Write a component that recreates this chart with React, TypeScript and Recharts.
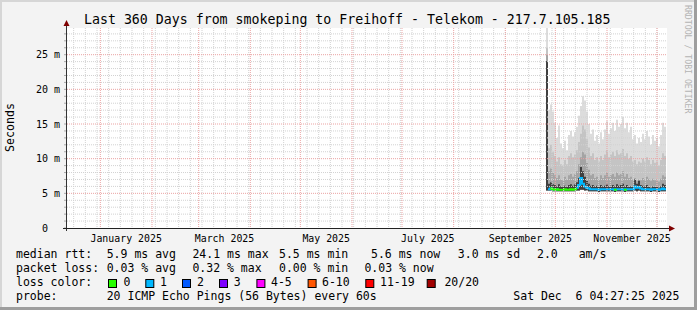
import { ComposedChart, Area, Line, XAxis, YAxis, CartesianGrid } from 'recharts';

const FONT = '"DejaVu Sans Mono", monospace';

// time axis in days since the start of the 360 day window
const firstDay = 287.4;
const stepDays = 1.2;

// smoke layers (ms), one value per 1.2 day step
const maxPing = [30, 17.0, 17.8, 16.8, 15.2, 13.0, 14.8, 12.2, 11.5, 12.6, 11.2, 13.4, 14.0, 13.2, 13.8, 14.6, 16.2, 17.6, 19.0, 18.4, 16.8, 15.0, 13.6, 14.2, 12.6, 13.4, 12.2, 13.8, 12.8, 14.2, 15.4, 13.6, 14.4, 15.2, 14.0, 15.6, 14.6, 15.0, 16.0, 14.4, 15.2, 13.8, 14.6, 12.8, 13.4, 12.2, 13.0, 12.4, 13.6, 12.8, 14.0, 13.2, 12.0, 13.4, 12.6, 13.0, 11.8, 13.4, 15.2, 14.6, 14.6];
const upperPing = [26, 11.5, 12.0, 11.0, 10.4, 9.6, 10.2, 9.2, 9.0, 9.8, 9.2, 10.4, 10.8, 10.2, 10.6, 11.2, 12.4, 13.6, 14.8, 14.2, 12.8, 11.6, 10.4, 10.8, 9.8, 10.2, 9.6, 10.4, 9.8, 10.6, 11.2, 10.2, 10.6, 11.0, 10.4, 11.2, 10.6, 10.8, 11.4, 10.4, 10.8, 10.0, 10.4, 9.6, 9.8, 9.2, 9.6, 9.4, 10.0, 9.6, 10.2, 9.8, 9.2, 9.8, 9.4, 9.6, 9.0, 9.8, 10.8, 10.4, 10.4];
const midPing = [25, 8.2, 8.6, 8.0, 7.6, 7.2, 7.6, 7.0, 6.9, 7.4, 7.0, 7.6, 7.8, 7.4, 7.8, 8.2, 9.2, 10.2, 11.0, 10.6, 9.4, 8.4, 7.6, 7.8, 7.2, 7.4, 7.0, 7.6, 7.2, 7.6, 8.0, 7.4, 7.6, 7.8, 7.4, 8.0, 7.6, 7.8, 8.2, 7.4, 7.8, 7.2, 7.4, 7.0, 7.2, 6.8, 7.0, 6.9, 7.2, 7.0, 7.4, 7.1, 6.8, 7.1, 6.9, 7.0, 6.7, 7.1, 7.6, 7.4, 7.4];
const corePing = [24.1, 6.4, 6.6, 6.3, 6.2, 6.0, 6.3, 6.0, 5.9, 6.1, 5.9, 6.2, 6.3, 6.1, 6.3, 6.6, 7.2, 8.8, 8.2, 7.4, 6.8, 6.4, 6.1, 6.2, 6.0, 6.1, 5.9, 6.2, 6.0, 6.1, 6.3, 6.0, 6.1, 6.2, 6.0, 6.3, 6.1, 6.2, 6.4, 6.0, 6.2, 5.9, 6.0, 5.9, 7.0, 6.4, 6.8, 6.2, 6.1, 6.0, 6.2, 5.9, 5.8, 6.0, 5.9, 5.9, 5.8, 6.0, 6.4, 6.2, 6.2];
const minPing = [5.4, 5.4, 5.4, 5.3, 5.3, 5.3, 5.3, 5.3, 5.3, 5.3, 5.3, 5.3, 5.3, 5.3, 5.3, 5.4, 5.4, 5.5, 5.5, 5.4, 5.4, 5.3, 5.3, 5.3, 5.3, 5.3, 5.2, 5.3, 5.3, 5.3, 5.3, 5.3, 5.3, 5.3, 5.2, 5.3, 5.3, 5.3, 5.3, 5.2, 5.3, 5.3, 5.3, 5.3, 5.4, 5.3, 5.4, 5.3, 5.3, 5.3, 5.3, 5.3, 5.2, 5.3, 5.3, 5.3, 5.2, 5.3, 5.3, 5.3, 5.3];
const medianRtt = [null, 5.6, 5.7, 5.6, 5.5, 5.6, 5.5, 5.5, 5.5, 5.6, 5.5, 5.5, 5.6, 5.5, 5.6, 5.8, 6.2, 7.2, 6.4, 6.0, 5.8, 5.7, 5.6, 5.6, 5.6, 5.6, 5.5, 5.6, 5.6, 5.6, 5.6, 5.6, 5.6, 5.6, 5.5, 5.6, 5.6, 5.6, 5.6, 5.5, 5.6, 5.6, 5.6, 5.6, 6.0, 5.8, 5.9, 5.7, 5.6, 5.6, 5.6, 5.6, 5.5, 5.6, 5.6, 5.6, 5.5, 5.6, 5.7, 5.6, 5.6];
const lossCount = [1, 1, 0, 1, 0, 1, 0, 0, 0, 0, 0, 0, 0, 0, 0, 1, 1, 1, 1, 1, 1, 1, 1, 1, 1, 1, 1, 1, 1, 1, 1, 1, 1, 1, 0, 1, 1, 1, 1, 0, 1, 1, 1, 1, 1, 1, 1, 1, 1, 1, 1, 1, 1, 1, 1, 1, 1, 1, 1, 1, 1];

const monthStarts = [20, 51, 79, 110, 140, 171, 201, 232, 263, 293, 324, 354];
const monthLabelDays = [35.5, 94.5, 155.5, 216.5, 278, 339];
const monthLabels = ['January 2025', 'March 2025', 'May 2025', 'July 2025', 'September 2025', 'November 2025'];
const weekStarts = Array.from({ length: 51 }, (_, k) => 4 + 7 * k);
const yTicks = [0, 1, 2, 3, 4, 5, 6, 7, 8, 9, 10, 11, 12, 13, 14, 15, 16, 17, 18, 19, 20, 21, 22, 23, 24, 25, 26, 27, 28];
const yMajor = [5, 10, 15, 20, 25];
const yMinor = yTicks.filter((v) => v > 0 && v % 5 !== 0);

const lossColors = ['#26ff00', '#00b8ff', '#0059ff', '#7e00ff', '#ff00ff', '#ff5500', '#ff0000', '#a10000'];
const lossLabels = ['0', '1', '2', '3', '4-5', '6-10', '11-19', '20/20'];

const statsRtt = ['5.9 ms avg', '24.1 ms max', '5.5 ms min', '5.6 ms now', '3.0 ms sd', '2.0', 'am/s'];
const statsLoss = ['0.03 % avg', '0.32 % max', '0.00 % min', '0.03 % now'];

const rows = maxPing.map((mx, i) => {
  const med = medianRtt[i];
  const inColor = (c: number) =>
    med != null && (lossCount[i] === c || (i > 0 && lossCount[i - 1] === c && medianRtt[i - 1] != null)) ? med : null;
  return {
    day: firstDay + i * stepDays,
    outer: [minPing[i], mx],
    upper: [minPing[i], upperPing[i]],
    mid: [minPing[i], midPing[i]],
    core: [minPing[i], corePing[i]],
    med0: inColor(0),
    med1: inColor(1),
  };
});

const XLabel = (p: any) => {
  const k = monthLabelDays.indexOf(p.payload.value);
  return (
    <text x={p.x} y={241.5} textAnchor="middle" fontFamily={FONT} fontSize={9.9} fill="#000">
      {k >= 0 ? monthLabels[k] : ''}
    </text>
  );
};

const YLabel = (p: any) => {
  const v = p.payload.value;
  if (v % 5 !== 0) return <g />;
  return (
    <text x={60} y={p.y + 3.6} textAnchor="end" fontFamily={FONT} fontSize={10} fill="#000" style={{ whiteSpace: 'pre' }}>
      {v === 0 ? '0  ' : `${v} m`}
    </text>
  );
};

const rttX = [106.7, 192.4, 279, 371, 457.8, 537, 578.7];
const lossX = [106.7, 192.4, 279, 364.4];
const boxX = [108, 145.3, 182, 219, 256.4, 307.6, 365.3, 426.7];
const boxLabelX = [123.6, 160, 197, 233.8, 271, 322, 380, 444.4];

export default function App() {
  const txt = { fontFamily: FONT, fontSize: 11.5, fill: '#000', style: { whiteSpace: 'pre' as const } };
  return (
    <div style={{ position: 'absolute', left: 0, top: 0, width: 697, height: 310, background: '#f3f3f3', overflow: 'hidden' }}>
      <div style={{ position: 'absolute', left: 67, top: 28, width: 600, height: 200, background: '#fff' }} />
      <div style={{ position: 'absolute', left: 0, top: 0 }}>
        <ComposedChart width={697} height={310} data={rows} margin={{ top: 28, right: 30, bottom: 62, left: 7 }}>
          <XAxis
            dataKey="day"
            type="number"
            domain={[0, 360]}
            ticks={monthStarts}
            interval={0}
            height={0}
            axisLine={false}
            tickLine={{ stroke: '#d88a8a' }}
            tickSize={3}
            tick={() => <g />}
            allowDataOverflow
          />
          <XAxis
            xAxisId="lab"
            dataKey="day"
            type="number"
            domain={[0, 360]}
            ticks={monthLabelDays}
            interval={0}
            height={20}
            axisLine={false}
            tickLine={false}
            tick={XLabel}
            allowDataOverflow
          />
          <YAxis
            type="number"
            domain={[0, 28.85]}
            ticks={yTicks}
            interval={0}
            width={60}
            axisLine={false}
            tickLine={{ stroke: '#aaa' }}
            tickSize={3}
            tick={YLabel}
            allowDataOverflow
          />
          <Area dataKey="outer" type="stepAfter" fill="#dcdcdc" fillOpacity={1} stroke="none" dot={false} activeDot={false} isAnimationActive={false} />
          <Area dataKey="upper" type="stepAfter" fill="#c4c4c4" fillOpacity={1} stroke="none" dot={false} activeDot={false} isAnimationActive={false} />
          <Area dataKey="mid" type="stepAfter" fill="#a4a4a4" fillOpacity={1} stroke="none" dot={false} activeDot={false} isAnimationActive={false} />
          <Area dataKey="core" type="stepAfter" fill="#404040" fillOpacity={1} stroke="none" dot={false} activeDot={false} isAnimationActive={false} />
          <Line dataKey="med1" type="stepAfter" stroke="#00b8ff" strokeWidth={2} dot={false} activeDot={false} isAnimationActive={false} />
          <Line dataKey="med0" type="stepAfter" stroke="#26ff00" strokeWidth={2} dot={false} activeDot={false} isAnimationActive={false} />
          <CartesianGrid verticalValues={weekStarts} horizontalValues={yMinor} stroke="#d2d2d2" strokeDasharray="1 1" zIndex={700} />
          <CartesianGrid verticalValues={monthStarts} horizontalValues={yMajor} stroke="#eba3a3" strokeDasharray="1 1" zIndex={701} />
        </ComposedChart>
      </div>
      <svg width={697} height={310} style={{ position: 'absolute', left: 0, top: 0, pointerEvents: 'none' }}>
        <rect x={0} y={0} width={697} height={2} fill="#d6d6d6" />
        <rect x={0} y={0} width={2} height={310} fill="#d6d6d6" />
        <rect x={694} y={0} width={3} height={310} fill="#9e9e9e" />
        <rect x={0} y={307} width={697} height={3} fill="#9e9e9e" />
        <text x={84} y={24} fontFamily={FONT} fontSize={13.25} fill="#000">
          Last 360 Days from smokeping to Freihoff - Telekom - 217.7.105.185
        </text>
        <text x={14} y={127.5} transform="rotate(-90 14 127.5)" textAnchor="middle" fontFamily={FONT} fontSize={11.6} fill="#000">
          Seconds
        </text>
        <text x={685} y={5} transform="rotate(90 685 5)" fontFamily={FONT} fontSize={8.2} fill="#b4b4b4">
          RRDTOOL / TOBI OETIKER
        </text>
        <line x1={66.5} y1={231} x2={66.5} y2={25} stroke="#333" />
        <line x1={63} y1={228.5} x2={670} y2={228.5} stroke="#222" />
        <polygon points="63.5,26 69.5,26 66.5,20" fill="#7f0000" />
        <polygon points="669,225.5 669,231.5 675,228.5" fill="#7f0000" />

        <text x={16} y={258} {...txt}>median rtt:</text>
        {statsRtt.map((s, i) => (
          <text key={`r${i}`} x={rttX[i]} y={258} {...txt}>{s}</text>
        ))}
        <text x={16} y={272} {...txt}>packet loss:</text>
        {statsLoss.map((s, i) => (
          <text key={`l${i}`} x={lossX[i]} y={272} {...txt}>{s}</text>
        ))}
        <text x={16} y={286} {...txt}>loss color:</text>
        {lossColors.map((c, i) => (
          <g key={`c${i}`}>
            <rect x={boxX[i] + 0.5} y={279.5} width={8} height={8} fill={c} stroke="#000" strokeWidth={1} />
            <text x={boxLabelX[i]} y={286} {...txt}>{lossLabels[i]}</text>
          </g>
        ))}
        <text x={16} y={300} {...txt}>probe:</text>
        <text x={106.7} y={300} {...txt}>20 ICMP Echo Pings (56 Bytes) every 60s</text>
        <text x={513.3} y={300} {...txt}>Sat Dec  6 04:27:25 2025</text>
      </svg>
    </div>
  );
}
